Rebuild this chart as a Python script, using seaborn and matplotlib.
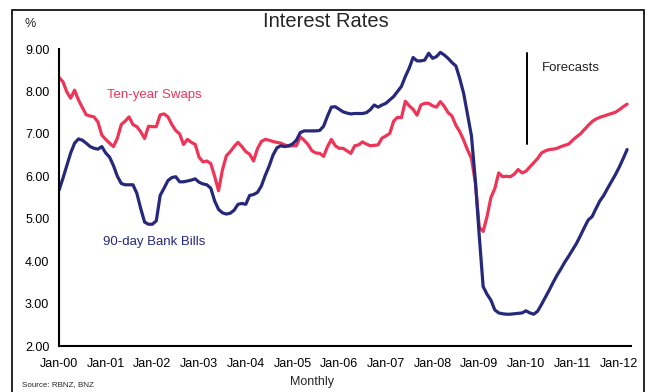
import numpy as np
import pandas as pd
import seaborn as sns
import matplotlib.pyplot as plt
from matplotlib.patches import Rectangle

# datos mensuales Jan-00 .. Mar-12
swaps = [
    8.33, 8.23, 7.99, 7.84, 8.03, 7.80, 7.62, 7.45, 7.42, 7.40, 7.28, 6.97,  # 2000
    6.87, 6.78, 6.70, 6.90, 7.22, 7.30, 7.40, 7.22, 7.17, 7.05, 6.89, 7.18,  # 2001
    7.17, 7.17, 7.45, 7.47, 7.40, 7.22, 7.08, 7.00, 6.75, 6.87, 6.80, 6.75,  # 2002
    6.45, 6.34, 6.36, 6.30, 6.00, 5.66, 6.15, 6.48, 6.58, 6.70, 6.80, 6.70,  # 2003
    6.58, 6.52, 6.36, 6.65, 6.82, 6.87, 6.85, 6.82, 6.80, 6.78, 6.74, 6.71,  # 2004
    6.72, 6.72, 6.93, 6.85, 6.75, 6.60, 6.55, 6.54, 6.47, 6.70, 6.87, 6.72,  # 2005
    6.66, 6.66, 6.60, 6.54, 6.72, 6.74, 6.81, 6.76, 6.72, 6.73, 6.74, 6.90,  # 2006
    6.95, 7.01, 7.30, 7.39, 7.38, 7.77, 7.66, 7.58, 7.44, 7.68, 7.72, 7.72,  # 2007
    7.66, 7.63, 7.76, 7.65, 7.50, 7.42, 7.20, 7.05, 6.85, 6.62, 6.42, 5.85,  # 2008
    4.80, 4.70, 5.05, 5.50, 5.71, 6.08, 5.99, 6.00, 5.99, 6.05, 6.16, 6.08,  # 2009
    6.12, 6.22, 6.32, 6.42, 6.55, 6.60, 6.63, 6.64, 6.66, 6.70, 6.73, 6.76,  # 2010
    6.85, 6.93, 7.00, 7.10, 7.20, 7.29, 7.35, 7.39, 7.42, 7.45, 7.48, 7.51,  # 2011
    7.57, 7.64, 7.70,                                                        # 2012
]

bills = [
    5.67, 5.95, 6.25, 6.55, 6.78, 6.88, 6.85, 6.78, 6.70, 6.66, 6.64, 6.70,  # 2000
    6.55, 6.45, 6.25, 6.00, 5.83, 5.80, 5.80, 5.80, 5.60, 5.24, 4.92, 4.87,  # 2001
    4.87, 4.95, 5.55, 5.72, 5.90, 5.97, 5.99, 5.87, 5.87, 5.89, 5.91, 5.94,  # 2002
    5.86, 5.82, 5.80, 5.72, 5.42, 5.22, 5.14, 5.11, 5.13, 5.20, 5.34, 5.36,  # 2003
    5.34, 5.55, 5.57, 5.62, 5.77, 6.02, 6.24, 6.50, 6.67, 6.72, 6.70, 6.72,  # 2004
    6.76, 6.85, 7.03, 7.07, 7.07, 7.07, 7.07, 7.08, 7.18, 7.42, 7.63, 7.64,  # 2005
    7.58, 7.52, 7.49, 7.47, 7.48, 7.48, 7.48, 7.50, 7.57, 7.68, 7.63, 7.68,  # 2006
    7.72, 7.80, 7.88, 8.00, 8.12, 8.35, 8.55, 8.80, 8.72, 8.72, 8.74, 8.90,  # 2007
    8.78, 8.82, 8.92, 8.86, 8.78, 8.68, 8.60, 8.30, 7.95, 7.45, 6.95, 5.90,  # 2008
    4.60, 3.40, 3.22, 3.08, 2.85, 2.78, 2.76, 2.75, 2.75, 2.76, 2.77, 2.78,  # 2009
    2.83, 2.78, 2.75, 2.82, 2.98, 3.15, 3.32, 3.50, 3.67, 3.82, 3.98, 4.12,  # 2010
    4.27, 4.42, 4.60, 4.79, 4.97, 5.05, 5.24, 5.42, 5.55, 5.72, 5.88, 6.04,  # 2011
    6.22, 6.42, 6.63,                                                        # 2012
]

tick_labels = ["Jan-00", "Jan-01", "Jan-02", "Jan-03", "Jan-04", "Jan-05", "Jan-06",
               "Jan-07", "Jan-08", "Jan-09", "Jan-10", "Jan-11", "Jan-12"]
y_ticks = [2, 3, 4, 5, 6, 7, 8, 9]

forecast_month = 120.3
forecast_line = [6.76, 8.90]

rojo = "#EE3558"
azul = "#26287A"

meses = np.arange(len(swaps))
df = pd.DataFrame({"mes": meses, "swaps": swaps, "bills": bills})

sns.set_style("white")
plt.rcParams["font.family"] = ["Liberation Sans", "DejaVu Sans"]

fig = plt.figure(figsize=(6.52, 3.92), dpi=100)
ax = fig.add_axes([0.0905, 0.1173, 0.8773, 0.7577])

sns.lineplot(data=df, x="mes", y="swaps", ax=ax, color=rojo, linewidth=2.3)
sns.lineplot(data=df, x="mes", y="bills", ax=ax, color=azul, linewidth=2.3)

# linea de pronosticos
ax.plot([forecast_month, forecast_month], forecast_line, color="black", linewidth=1.4)
ax.text(124.2, 8.55, "Forecasts", fontsize=9.5, color="#222222", va="center", ha="left")

ax.text(12.3, 7.92, "Ten-year Swaps", fontsize=9.5, color=rojo, va="center", ha="left")
ax.text(11.3, 4.45, "90-day Bank Bills", fontsize=9.5, color=azul, va="center", ha="left")

ax.set_xlim(0, 147)
ax.set_ylim(2, 9)
ax.set_xticks(np.arange(0, 12 * len(tick_labels), 12))
ax.set_xticklabels(tick_labels)
ax.set_yticks(y_ticks)
ax.set_yticklabels([f"{v:.2f}" for v in y_ticks])
ax.set_xlabel("")
ax.set_ylabel("")
ax.tick_params(axis="x", direction="inout", length=5, width=1.2, labelsize=9, pad=6)
ax.tick_params(axis="y", direction="out", length=4, width=1.2, labelsize=9, pad=3)
ax.tick_params(colors="black")

for lado in ["top", "right"]:
    ax.spines[lado].set_visible(False)
for lado in ["left", "bottom"]:
    ax.spines[lado].set_color("black")
    ax.spines[lado].set_linewidth(1.5)

fig.text(0.5, 0.944, "Interest Rates", fontsize=14.5, ha="center", va="center")
fig.text(0.046, 0.938, "%", fontsize=9, ha="center", va="center")
fig.text(0.479, 0.026, "Monthly", fontsize=9, ha="center", va="center")
fig.text(0.033, 0.018, "Source: RBNZ, BNZ", fontsize=5.8, ha="left", va="center")

marco = Rectangle((0.0184, -0.05), 0.9693, 1.0245, transform=fig.transFigure,
                  fill=False, edgecolor="black", linewidth=1.2)
fig.add_artist(marco)

fig.savefig("out.png", dpi=100)
